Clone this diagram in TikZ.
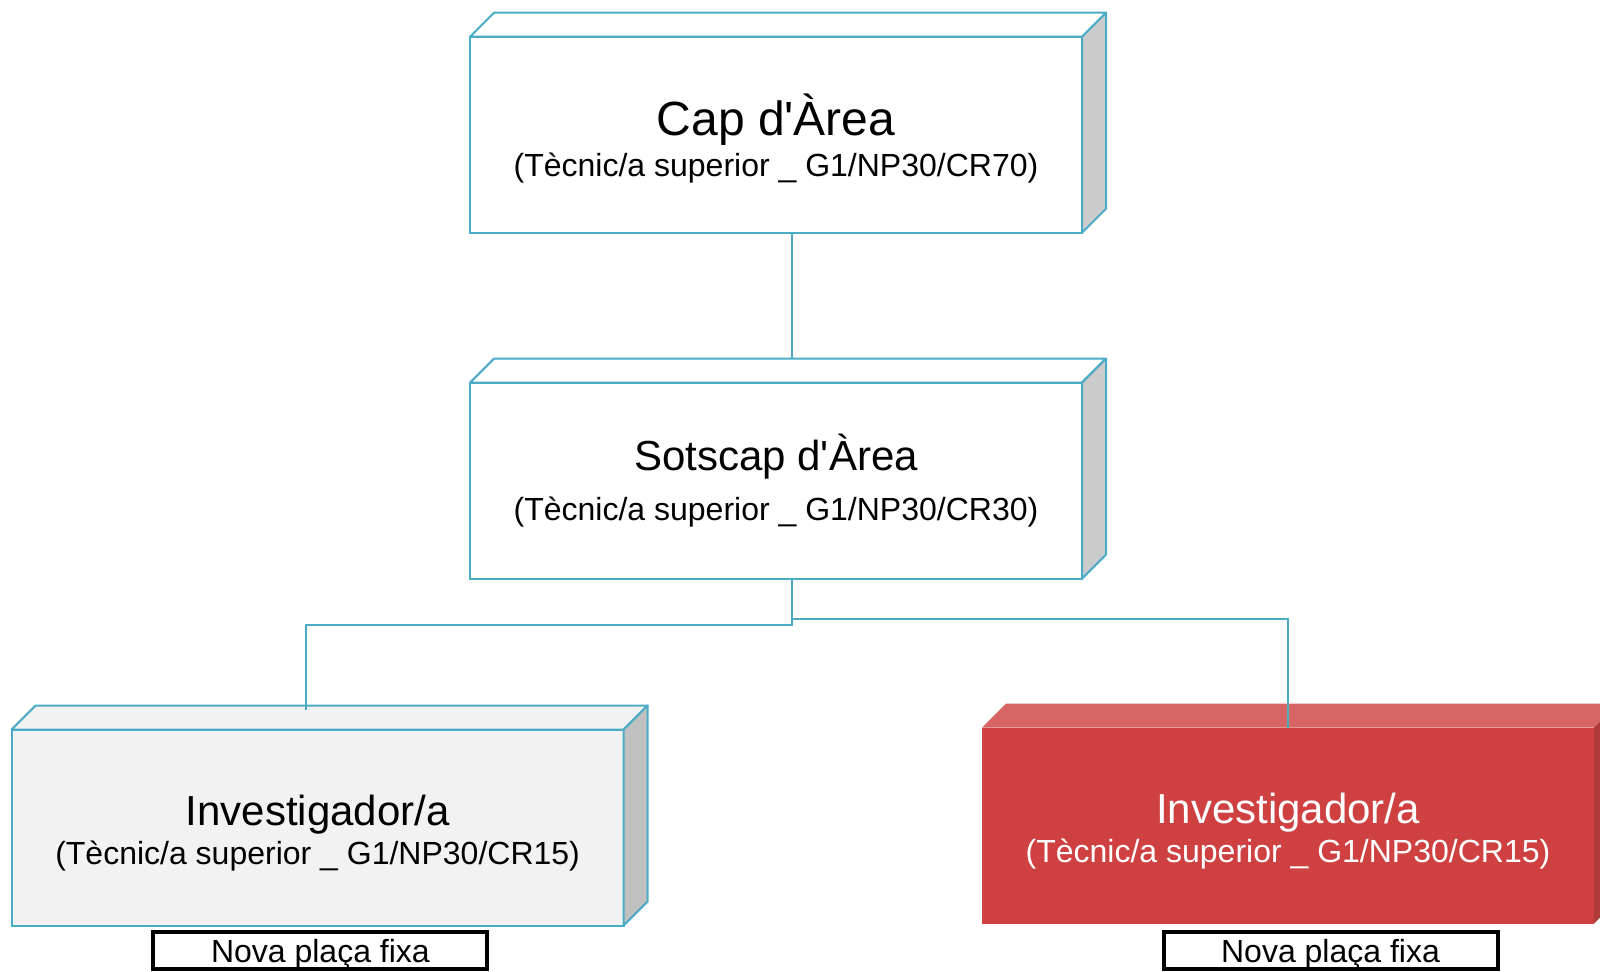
\documentclass[tikz,border=0pt]{standalone}
\usepackage{fontspec}
\setmainfont{Liberation Sans}
\definecolor{BoxLine}{HTML}{4BACC6}
\definecolor{SideGrey}{HTML}{CCCCCC}
\definecolor{SideGreyDark}{HTML}{C0C0C0}
\definecolor{FrontGrey}{HTML}{F2F2F2}
\definecolor{RedFront}{HTML}{CF4141}
\definecolor{RedTop}{HTML}{D86565}
\definecolor{RedSide}{HTML}{AE3A3A}

\begin{document}
\begin{tikzpicture}[x=0.5pt,y=-0.5pt]
  \tikzset{BoxStyle/.style = {
    shape          = rectangle,
    draw           = BoxLine,
    fill           = white,
    line width     = 1pt,
    text           = black,
    align          = center,
    inner sep      = 0pt,
    outer sep      = 0pt,
    minimum width  = 306pt,
    minimum height = 98pt
    }
  }
  \tikzset{FaceStyle/.style = {
    draw       = BoxLine,
    line width = 1pt,
    line join  = round,
    fill       = white
    }
  }
  \tikzset{LinkStyle/.style = {
    draw       = BoxLine,
    line width = 1pt
    }
  }
  \tikzset{PlacaStyle/.style = {
    shape          = rectangle,
    draw           = black,
    line width     = 2pt,
    fill           = white,
    inner sep      = 0pt,
    minimum width  = 167pt,
    minimum height = 18pt,
    text height    = 15.5pt,
    text depth     = 3.4pt,
    font           = \fontsize{16}{19}\selectfont
    }
  }

  \useasboundingbox (0,0) rectangle (1600,972);

  % boxes
  \node[BoxStyle, font=\fontsize{16}{20.3}\selectfont](Cap) at (776, 134.7)
    {{\fontsize{24}{24}\selectfont\rule{0pt}{24.4pt}Cap d\textquotesingle Àrea}\\(Tècnic/a superior \_ G1/NP30/CR70)};
  \node[BoxStyle, font=\fontsize{16}{25}\selectfont](Sub) at (776, 480.6)
    {{\fontsize{21}{21}\selectfont Sotscap d\textquotesingle Àrea}\\(Tècnic/a superior \_ G1/NP30/CR30)};
  \node[BoxStyle, fill=FrontGrey, font=\fontsize{16}{19.5}\selectfont](InvA) at (317.6, 827.5)
    {{\fontsize{21}{21}\selectfont\rule{0pt}{20.5pt}Investigador/a}\\(Tècnic/a superior \_ G1/NP30/CR15)};
  \node[BoxStyle, draw=none, fill=RedFront, text=white, font=\fontsize{16}{19.5}\selectfont](InvB) at (1288, 825.5)
    {{\fontsize{21}{21}\selectfont\rule{0pt}{20.5pt}Investigador/a}\\(Tècnic/a superior \_ G1/NP30/CR15)};

  % depth faces
  \draw[FaceStyle] (Cap.north west) -- ++(24,-24) -- ([xshift=12pt,yshift=12pt]Cap.north east) -- (Cap.north east) -- cycle;
  \draw[FaceStyle, fill=SideGrey] (Cap.north east) -- ++(24,-24) -- ([xshift=12pt,yshift=12pt]Cap.south east) -- (Cap.south east) -- cycle;
  \draw[FaceStyle] (Sub.north west) -- ++(24,-24) -- ([xshift=12pt,yshift=12pt]Sub.north east) -- (Sub.north east) -- cycle;
  \draw[FaceStyle, fill=SideGrey] (Sub.north east) -- ++(24,-24) -- ([xshift=12pt,yshift=12pt]Sub.south east) -- (Sub.south east) -- cycle;
  \draw[FaceStyle, fill=FrontGrey] (InvA.north west) -- ++(24,-24) -- ([xshift=12pt,yshift=12pt]InvA.north east) -- (InvA.north east) -- cycle;
  \draw[FaceStyle, fill=SideGreyDark] (InvA.north east) -- ++(24,-24) -- ([xshift=12pt,yshift=12pt]InvA.south east) -- (InvA.south east) -- cycle;
  \fill[RedTop] (InvB.north west) -- ++(24,-24) -- ([xshift=12pt,yshift=12pt]InvB.north east) -- (InvB.north east) -- cycle;
  \fill[RedSide] (InvB.north east) -- ++(24,-24) -- ([xshift=12pt,yshift=12pt]InvB.south east) -- (InvB.south east) -- cycle;

  % links
  \draw[LinkStyle] ([xshift=8pt]Cap.south) -- ([xshift=8pt,yshift=12pt]Sub.north);
  \draw[LinkStyle] ([xshift=8pt]Sub.south) -- ++(0,46) -| ([xshift=-6pt,yshift=10pt]InvA.north);
  \draw[LinkStyle] ([xshift=8pt,yshift=-20pt]Sub.south) -| (InvB.north);

  % labels
  \node[PlacaStyle](PlacaA) at (320.4, 950.5) {Nova plaça fixa};
  \node[PlacaStyle](PlacaB) at (1330.5, 950.5) {Nova plaça fixa};

\end{tikzpicture}
\end{document}
